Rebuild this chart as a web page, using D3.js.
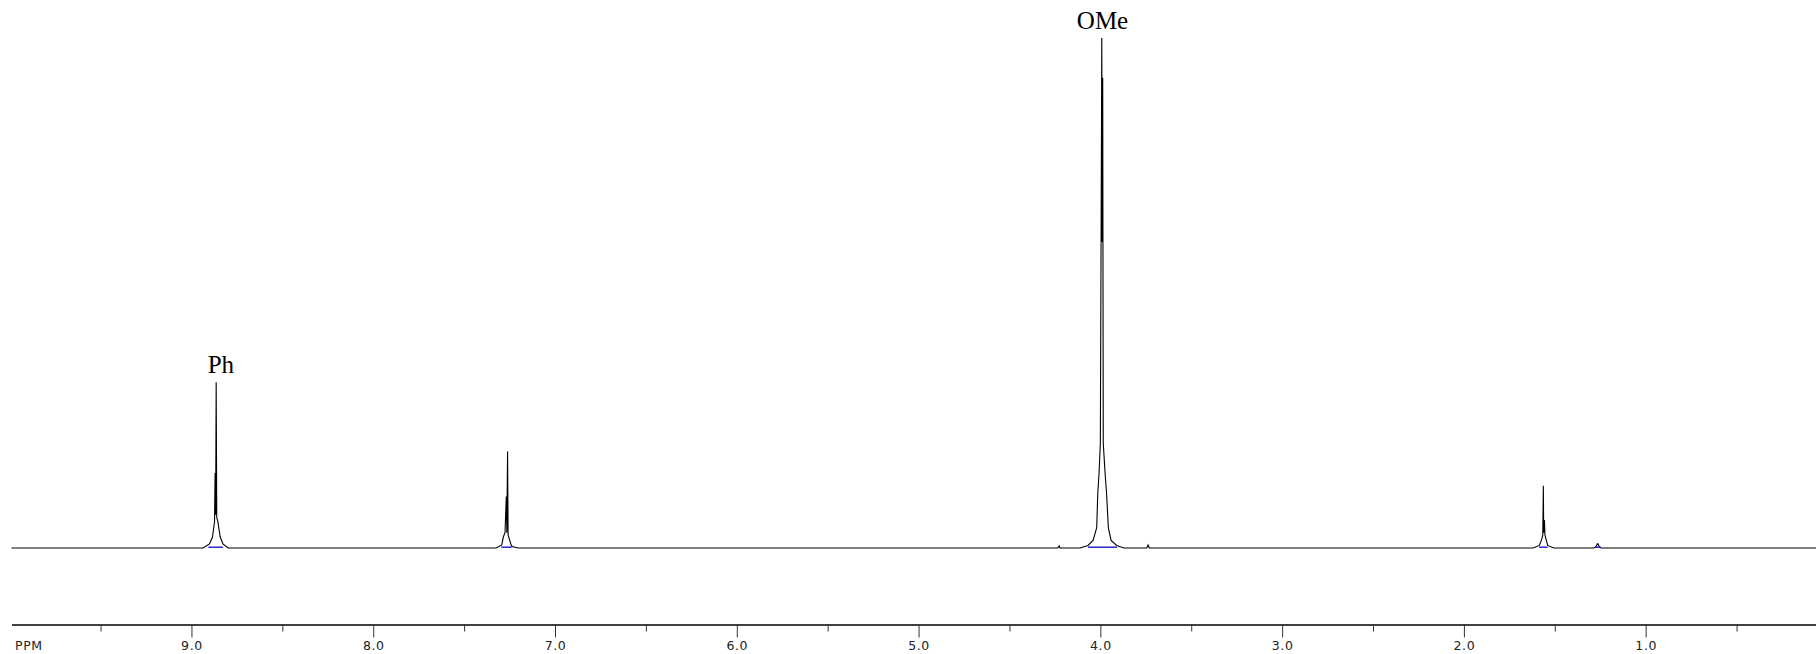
<!DOCTYPE html>
<html>
<head>
<meta charset="utf-8">
<script src="https://cdn.jsdelivr.net/npm/d3@7"></script>
<style>
  body { margin: 0; background: #fff; }
  .lbl { font-family: "Liberation Serif", "Times New Roman", serif; font-size: 25px; }
  .axis text { font-family: "DejaVu Sans", Verdana, sans-serif; font-size: 12.5px; fill: #222; }
</style>
</head>
<body>
<div id="chart"></div>
<script>
// spectrum pieces, [ppm, intensity] (OMe top = 100)
var spectrumEnds = [9.99, 0.063];
var peakPh = [[8.936, 0], [8.901, 0.8], [8.884, 2.2], [8.873, 5.2], [8.870, 14.7], [8.867, 6.5],
  [8.864, 32.5], [8.861, 6], [8.855, 5.2], [8.842, 2.2], [8.827, 0.8], [8.798, 0]];
var peakCDCl3 = [[7.324, 0], [7.293, 0.6], [7.284, 2.2], [7.275, 3], [7.268, 10.1], [7.265, 3],
  [7.261, 18.9], [7.258, 2.5], [7.243, 0.8], [7.236, 0.3], [7.203, 0]];
var blipA = [[4.235, 0], [4.226, 0.4], [4.222, 0]];
var peakOMe = [[4.112, 0], [4.068, 0.5], [4.040, 1.5], [4.020, 4], [4.014, 10.8], [4.007, 14.7],
  [4.000, 20.6], [3.992, 100], [3.990, 60], [3.987, 92.2], [3.984, 20.6], [3.974, 14.7],
  [3.966, 10.8], [3.956, 4], [3.941, 1.5], [3.910, 0.5], [3.870, 0]];
var blipB = [[3.745, 0], [3.737, 0.6], [3.731, 0]];
var peakWater = [[1.620, 0], [1.585, 0.5], [1.572, 1.7], [1.566, 2.5], [1.563, 12.2], [1.561, 3],
  [1.557, 5.5], [1.554, 2.5], [1.548, 1.7], [1.539, 0.5], [1.505, 0]];
var peak126 = [[1.285, 0], [1.272, 0.3], [1.266, 0.8], [1.262, 0.8], [1.256, 0.3], [1.245, 0]];

// integration regions (blue marks on the baseline)
var integrals = [[8.907, 8.827], [7.296, 7.238], [4.068, 3.908], [1.587, 1.539], [1.279, 1.248]];

var labelText = ["Ph", "OMe"];
var labelShift = [8.838, 3.988];
var labelHeight = [32.5, 100];

var majorTicks = [9, 8, 7, 6, 5, 4, 3, 2, 1];
var minorTicks = [9.5, 8.5, 7.5, 6.5, 5.5, 4.5, 3.5, 2.5, 1.5, 0.5];
var axisTitle = "PPM";

var width = 1816,
  height = 654,
  margin = {left: 11.5, right: 0},
  baseY = 548,
  axisY = 624.5,
  svg = d3.select("#chart")
    .append("svg")
    .attr("width", width)
    .attr("height", height),
  x = d3.scaleLinear()
    .domain(spectrumEnds)
    .range([margin.left, width - margin.right]),
  y = d3.scaleLinear()
    .domain([0, 100])
    .range([baseY, 38]);

var spectrum = [[spectrumEnds[0], 0]]
  .concat(peakPh, peakCDCl3, blipA, peakOMe, blipB, peakWater, peak126)
  .concat([[spectrumEnds[1], 0]]);

var line = d3.line()
  .x(function (d) { return x(d[0]); })
  .y(function (d) { return y(d[1]); });

svg.append("path")
  .datum(spectrum)
  .attr("d", line)
  .attr("fill", "none")
  .attr("stroke", "#000")
  .attr("stroke-width", 1.1);

svg.selectAll("line.integral")
  .data(integrals)
  .enter()
  .append("line")
  .attr("class", "integral")
  .attr("x1", function (d) { return x(d[0]); })
  .attr("x2", function (d) { return x(d[1]); })
  .attr("y1", y(0) - 0.8)
  .attr("y2", y(0) - 0.8)
  .attr("stroke", "#1a1acc")
  .attr("stroke-width", 1.4);

svg.selectAll("text.lbl")
  .data(labelText)
  .enter()
  .append("text")
  .attr("class", "lbl")
  .attr("text-anchor", "middle")
  .attr("x", function (d, i) { return x(labelShift[i]); })
  .attr("y", function (d, i) { return y(labelHeight[i]) - 9; })
  .text(function (d) { return d; });

// axis: major ticks with labels, minor ticks without
var majorAxis = svg.append("g")
  .attr("class", "axis")
  .attr("transform", "translate(0," + axisY + ")")
  .call(d3.axisBottom(x)
    .tickValues(majorTicks)
    .tickFormat(d3.format(".1f"))
    .tickSize(13)
    .tickSizeOuter(0));

majorAxis.select(".domain")
  .attr("stroke", "#000")
  .attr("stroke-width", 1.5);
majorAxis.selectAll(".tick line").attr("stroke", "#333");
majorAxis.selectAll(".tick text")
  .attr("y", 25)
  .attr("dy", 0)
  .style("letter-spacing", "0.6px");

var minorAxis = svg.append("g")
  .attr("class", "axis")
  .attr("transform", "translate(0," + axisY + ")")
  .call(d3.axisBottom(x)
    .tickValues(minorTicks)
    .tickFormat("")
    .tickSize(7)
    .tickSizeOuter(0));
minorAxis.select(".domain").remove();
minorAxis.selectAll(".tick line").attr("stroke", "#333");

svg.append("text")
  .attr("class", "axis")
  .attr("x", 15)
  .attr("y", axisY + 25)
  .style("font-family", "DejaVu Sans, Verdana, sans-serif")
  .style("font-size", "12.5px")
  .style("fill", "#222")
  .style("letter-spacing", "0.6px")
  .text(axisTitle);
</script>
</body>
</html>
